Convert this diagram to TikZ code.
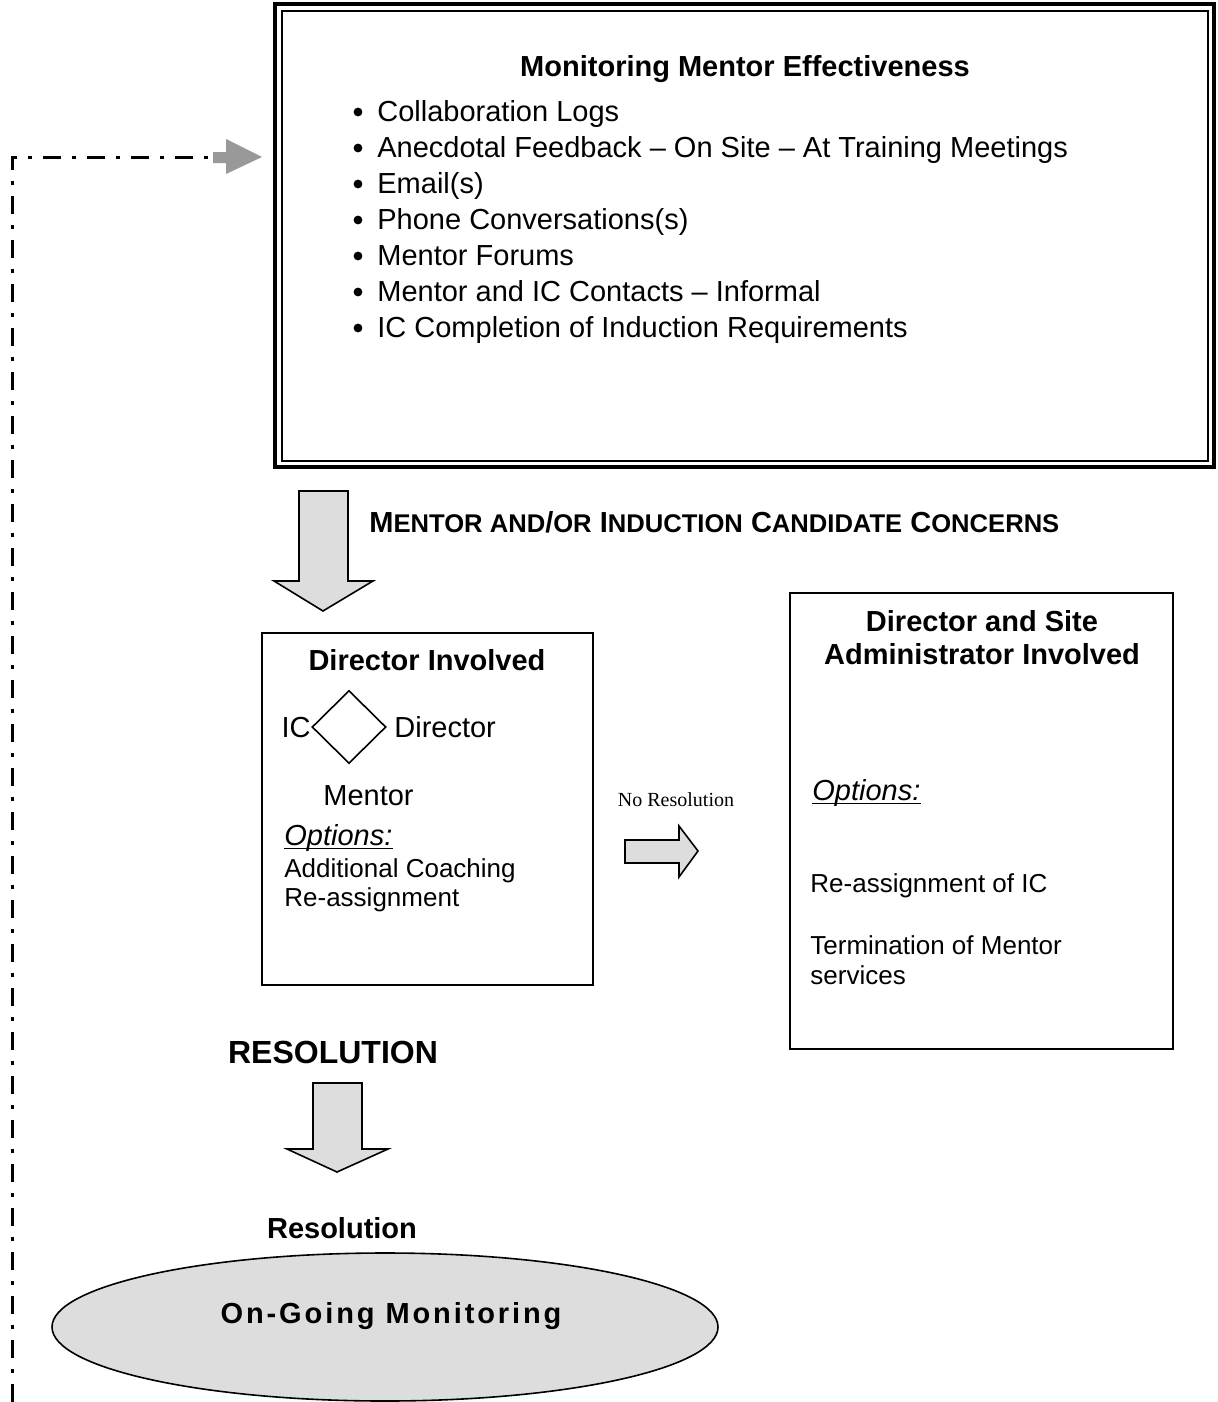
\documentclass[tikz,border=0pt]{standalone}
\usepackage{fontspec}
\setmainfont{Liberation Sans}
\newfontfamily\serifnote{Liberation Serif}
\usetikzlibrary{shapes.geometric}

\definecolor{arrowfill}{HTML}{DDDDDD}
\definecolor{feedgrey}{HTML}{999999}

\newcommand{\bodysize}{\fontsize{14.5}{17}\selectfont}
\newcommand{\smallsize}{\fontsize{13}{15}\selectfont}
\newcommand{\bigsize}{\fontsize{16}{19}\selectfont}
\newcommand{\capsm}[1]{{\fontsize{12.8}{15}\selectfont #1}}

\tikzset{
  txt/.style={inner sep=0pt, anchor=base west, font=\bodysize},
  ttl/.style={inner sep=0pt, anchor=base, font=\bodysize\bfseries},
  opt/.style={txt, font=\smallsize},
  bul/.style={circle, fill=black, inner sep=0pt, minimum size=4.4pt},
  uline/.style={line width=0.7pt},
  blockarrow/.style={draw=black, line width=0.8pt, fill=arrowfill, line join=miter},
  dashdot/.style={line width=1.5pt, dash pattern=on 9pt off 5.5pt on 2pt off 5.5pt}
}

\begin{document}
\begin{tikzpicture}[x=0.5pt, y=-0.5pt]
\useasboundingbox (0,0) rectangle (1217,1402);

% monitoring box
\draw[line width=1.7pt] (275,4) rectangle (1214,467);
\draw[line width=0.8pt] (282,11) rectangle (1208,461);
\node[ttl] (montitle) at (745,77) {Monitoring Mentor Effectiveness};
\foreach \entry [count=\i] in {Collaboration Logs,
  Anecdotal Feedback -- On Site -- At Training Meetings,
  Email(s), Phone Conversations(s), Mentor Forums,
  Mentor and IC Contacts -- Informal,
  IC Completion of Induction Requirements}{
  \node[txt] (item\i) at (377,{121+36*(\i-1)}) {\entry};
  \node[bul] (bul\i) at (358,{112+36*(\i-1)}) {};
}

% feedback line
\coordinate (fbstart) at (12,1402);
\coordinate (fbend) at (213,157);
\draw[dashdot] (fbstart) |- (fbend);
\fill[feedgrey] (213,152) -- (226,152) -- (226,139) -- (262,157) -- (226,174) -- (226,163) -- (213,163) -- cycle;

% concerns
\filldraw[blockarrow] (299,491) -- (348,491) -- (348,581) -- (373,581) -- (323,611) -- (274,581) -- (299,581) -- cycle;
\node[txt, font=\bodysize\bfseries] (concerns) at (369,532)
  {M\capsm{ENTOR AND}/\capsm{OR} I\capsm{NDUCTION} C\capsm{ANDIDATE} C\capsm{ONCERNS}};

% director involved
\draw[line width=1.1pt] (262,633) rectangle (593,985);
\node[ttl] (dirtitle) at (427,670) {Director Involved};
\node[diamond, draw, line width=0.8pt, aspect=1, inner sep=0pt,
  minimum width=37pt, minimum height=36.5pt] (triad) at (349,727) {};
\node[txt, anchor=base east] (icl) at (311,737) {IC};
\node[txt] (dirl) at (394,737) {Director};
\node[txt] (mentl) at (323,805) {Mentor};
\node[txt] (opt1) at (284,845) {\itshape Options:};
\draw[uline] ([yshift=-1.6pt]opt1.base west) -- ([yshift=-1.6pt]opt1.base east);
\node[opt] (coach) at (284,877) {Additional Coaching};
\node[opt] (reas) at (284,906) {Re-assignment};

% no resolution
\node[inner sep=0pt, anchor=base, font=\serifnote\fontsize{10}{12}\selectfont] (nores) at (676,806) {No Resolution};
\filldraw[blockarrow] (625,840) -- (679,840) -- (679,826) -- (698,851) -- (679,877) -- (679,863) -- (625,863) -- cycle;

% director and site administrator
\draw[line width=1.1pt] (790,593) rectangle (1173,1049);
\node[ttl] (adtitle1) at (982,631) {Director and Site};
\node[ttl] (adtitle2) at (982,664) {Administrator Involved};
\node[txt] (opt2) at (812,800) {\itshape Options:};
\draw[uline] ([yshift=-1.6pt]opt2.base west) -- ([yshift=-1.6pt]opt2.base east);
\node[opt] (reic) at (810,892) {Re-assignment of IC};
\node[opt] (term) at (810,954) {Termination of Mentor};
\node[opt] (serv) at (810,984) {services};

% resolution
\node[inner sep=0pt, anchor=base, font=\bigsize\bfseries] (resbig) at (333,1063) {RESOLUTION};
\filldraw[blockarrow] (313,1083) -- (362,1083) -- (362,1149) -- (388,1149) -- (337,1172) -- (287,1149) -- (313,1149) -- cycle;
\node[ttl] (reslab) at (342,1238) {Resolution};

% on-going monitoring
\node[ellipse, draw, fill=arrowfill, line width=0.8pt, inner sep=0pt,
  minimum width=333pt, minimum height=74pt] (ongoing) at (385,1327) {};
\node[ttl] (ongoingtxt) at (391,1323) {\addfontfeature{LetterSpace=10}On-Going Monitoring};
\end{tikzpicture}
\end{document}
